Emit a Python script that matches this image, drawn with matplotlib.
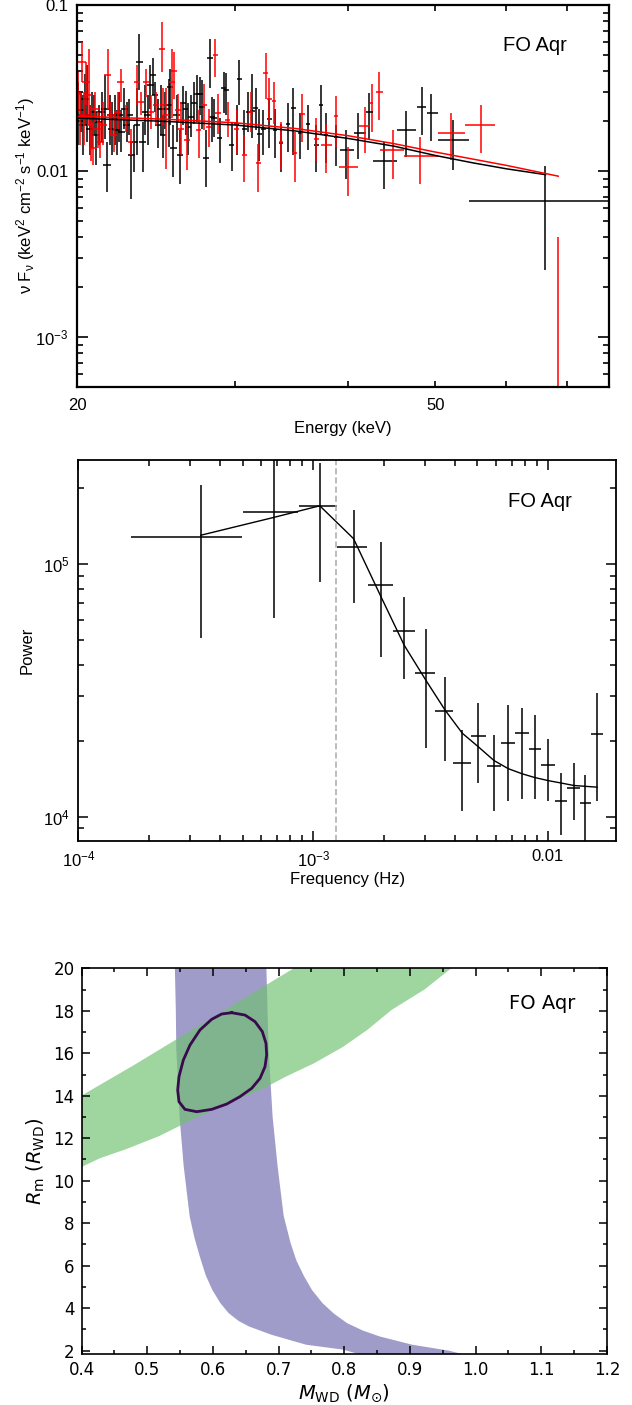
import numpy as np
import matplotlib
matplotlib.use('Agg')
import matplotlib.pyplot as plt
from matplotlib.ticker import (FixedLocator, FixedFormatter, NullFormatter,
                               LogLocator, MultipleLocator)

plt.rcParams['font.family'] = 'Liberation Sans'
plt.rcParams['mathtext.fontset'] = 'custom'
plt.rcParams['mathtext.rm'] = 'Liberation Sans'
plt.rcParams['mathtext.it'] = 'Liberation Sans:italic'
plt.rcParams['mathtext.bf'] = 'Liberation Sans:bold'

# ---------------- spectrum (top panel) ----------------
# dense, narrow-bin points: energy (keV), flux, lower, upper
blk_E = [20.05, 20.19, 20.31, 20.43, 20.53, 20.66, 20.78, 20.89, 21.01, 21.14,
         21.31, 21.49, 21.60, 21.78, 21.85, 22.04, 22.15, 22.28, 22.41, 22.57,
         22.72, 22.86, 22.99, 23.16, 23.32, 23.46, 23.66, 23.80, 23.97, 24.13,
         24.28, 24.43, 24.60, 24.77, 24.93, 25.08, 25.3, 25.4, 25.6, 25.8,
         26.0, 26.2, 26.4, 26.6, 26.8, 27.0, 27.2, 27.4, 27.55, 27.8,
         28.1, 28.25, 28.4, 28.8, 29.1, 29.3, 29.7, 30.1, 30.3, 30.7,
         31.0, 31.3, 31.6, 31.9, 32.2, 32.7, 33.2, 33.7, 34.3, 34.8,
         35.4, 36.1, 36.9, 37.3, 37.8, 38.8]
blk_F = [0.0216, 0.0232, 0.0189, 0.0273, 0.0216, 0.0180, 0.0207, 0.0227, 0.0164, 0.0198,
         0.0227, 0.0237, 0.0108, 0.0216, 0.0180, 0.0207, 0.0176, 0.0216, 0.0172, 0.0237,
         0.0189, 0.0216, 0.0124, 0.0149, 0.0189, 0.0454, 0.0149, 0.0227, 0.0216, 0.0328,
         0.0378, 0.0286, 0.0189, 0.0237, 0.0164, 0.0237, 0.0249, 0.0320, 0.0137, 0.0216,
         0.0124, 0.0255, 0.0235, 0.0184, 0.0211, 0.0258, 0.0289, 0.0292, 0.0243, 0.0119,
         0.0476, 0.0211, 0.0207, 0.0159, 0.0316, 0.0306, 0.0144, 0.0193, 0.0356, 0.0180,
         0.0227, 0.0229, 0.0239, 0.0168, 0.0180, 0.0205, 0.0176, 0.0148, 0.0193, 0.0241,
         0.0170, 0.0191, 0.0144, 0.0249, 0.0164, 0.0160]
blk_lo = [0.0143, 0.0172, 0.0124, 0.0189, 0.0149, 0.0124, 0.0137, 0.0164, 0.0108, 0.0143,
          0.0149, 0.0156, 0.0075, 0.0143, 0.0124, 0.0143, 0.0124, 0.0149, 0.0130, 0.0180,
          0.0149, 0.0164, 0.0068, 0.0099, 0.0124, 0.0306, 0.0099, 0.0164, 0.0143, 0.0237,
          0.0286, 0.0227, 0.0137, 0.0164, 0.0119, 0.0180, 0.0140, 0.0189, 0.0092, 0.0149,
          0.0084, 0.0189, 0.0164, 0.0124, 0.0160, 0.0193, 0.0198, 0.0216, 0.0178, 0.0080,
          0.0314, 0.0149, 0.0160, 0.0111, 0.0222, 0.0216, 0.0100, 0.0125, 0.0249, 0.0127,
          0.0172, 0.0157, 0.0176, 0.0114, 0.0124, 0.0137, 0.0120, 0.0099, 0.0130, 0.0124,
          0.0118, 0.0133, 0.0098, 0.0166, 0.0111, 0.0107]
blk_hi = [0.0345, 0.0299, 0.0286, 0.0386, 0.0433, 0.0249, 0.0299, 0.0286, 0.0227, 0.0249,
          0.0299, 0.0378, 0.0149, 0.0286, 0.0260, 0.0286, 0.0232, 0.0299, 0.0232, 0.0314,
          0.0260, 0.0273, 0.0149, 0.0189, 0.0314, 0.0672, 0.0198, 0.0328, 0.0286, 0.0433,
          0.0476, 0.0345, 0.0273, 0.0328, 0.0216, 0.0299, 0.0360, 0.0414, 0.0189, 0.0286,
          0.0176, 0.0325, 0.0303, 0.0255, 0.0286, 0.0341, 0.0378, 0.0368, 0.0352, 0.0176,
          0.0627, 0.0279, 0.0273, 0.0207, 0.0395, 0.0391, 0.0198, 0.0251, 0.0463, 0.0232,
          0.0299, 0.0381, 0.0314, 0.0235, 0.0232, 0.0273, 0.0237, 0.0193, 0.0255, 0.0314,
          0.0222, 0.0251, 0.0190, 0.0331, 0.0222, 0.0189]

red_E = [20.05, 20.14, 20.26, 20.36, 20.48, 20.60, 20.71, 20.83, 20.96, 21.10,
         21.24, 21.37, 21.63, 21.82, 21.96, 22.19, 22.38, 22.66, 22.96, 23.32,
         23.56, 23.87, 24.18, 24.50, 24.86, 24.93, 25.10, 25.5, 25.65, 25.9,
         26.1, 26.5, 27.3, 27.7, 28.0, 28.5, 28.7, 29.4, 30.1, 30.7,
         31.2, 31.8, 32.4, 32.7, 33.1, 33.7, 34.9, 35.6, 36.9, 38.8, 42.5]
red_F = [0.0292, 0.0207, 0.0454, 0.0216, 0.0345, 0.0286, 0.0189, 0.0137, 0.0237, 0.0180,
         0.0149, 0.0189, 0.0378, 0.0216, 0.0164, 0.0227, 0.0345, 0.0207, 0.0149, 0.0345,
         0.0260, 0.0345, 0.0227, 0.0249, 0.0546, 0.0249, 0.0216, 0.0345, 0.0400, 0.0232,
         0.0180, 0.0153, 0.0176, 0.0251, 0.0184, 0.0498, 0.0222, 0.0202, 0.0180, 0.0125,
         0.0227, 0.0112, 0.0391, 0.0273, 0.0265, 0.0149, 0.0129, 0.0220, 0.0155, 0.0213, 0.0255]
red_lo = [0.0227, 0.0143, 0.0345, 0.0143, 0.0249, 0.0189, 0.0114, 0.0108, 0.0198, 0.0137,
          0.0119, 0.0143, 0.0237, 0.0164, 0.0130, 0.0180, 0.0260, 0.0172, 0.0125, 0.0249,
          0.0216, 0.0280, 0.0180, 0.0189, 0.0395, 0.0189, 0.0103, 0.0207, 0.0273, 0.0198,
          0.0124, 0.0101, 0.0119, 0.0176, 0.0140, 0.0368, 0.0168, 0.0160, 0.0127, 0.0086,
          0.0172, 0.0075, 0.0273, 0.0199, 0.0193, 0.0101, 0.0086, 0.0149, 0.0114, 0.0140, 0.0172]
red_hi = [0.0395, 0.0299, 0.0599, 0.0299, 0.0454, 0.0546, 0.0249, 0.0198, 0.0299, 0.0227,
          0.0198, 0.0260, 0.0546, 0.0260, 0.0216, 0.0299, 0.0414, 0.0249, 0.0180, 0.0433,
          0.0299, 0.0414, 0.0286, 0.0299, 0.0790, 0.0314, 0.0314, 0.0545, 0.0520, 0.0292,
          0.0260, 0.0202, 0.0232, 0.0336, 0.0237, 0.0627, 0.0292, 0.0260, 0.0232, 0.0164,
          0.0299, 0.0146, 0.0510, 0.0361, 0.0344, 0.0198, 0.0172, 0.0292, 0.0207, 0.0282, 0.0336]

# wide-bin points: centre, bin low, bin high, flux, lower, upper
blkw_E = [39.8, 41.0, 42.2, 43.9, 46.4, 48.3, 49.5, 52.4, 66.3]
blkw_Elo = [39.2, 40.6, 41.9, 42.7, 45.4, 47.7, 49.0, 50.4, 54.5]
blkw_Ehi = [40.6, 41.9, 42.6, 45.3, 47.6, 48.9, 50.4, 54.5, 80.0]
blkw_F = [0.0133, 0.0170, 0.0225, 0.0114, 0.0176, 0.0243, 0.0223, 0.0153, 0.00657]
blkw_lo = [0.0089, 0.0118, 0.0153, 0.0078, 0.0121, 0.0164, 0.0152, 0.0102, 0.00254]
blkw_hi = [0.0176, 0.0222, 0.0295, 0.0149, 0.0229, 0.0320, 0.0292, 0.0202, 0.0107]

redw_E = [37.8, 40.0, 41.8, 43.3, 44.9, 48.1, 52.1, 56.2, 68.5]
redw_Elo = [37.3, 39.1, 41.2, 43.0, 43.4, 46.2, 50.4, 54.0, 58.3]
redw_Ehi = [38.4, 41.0, 42.3, 43.7, 46.2, 50.4, 54.0, 58.3, 80.0]
redw_F = [0.0143, 0.0105, 0.0186, 0.0299, 0.0133, 0.0123, 0.0170, 0.0189, 0.0002]
redw_lo = [0.0097, 0.0071, 0.0128, 0.0202, 0.0089, 0.0084, 0.0116, 0.0129, 0.00001]
redw_hi = [0.0193, 0.0140, 0.0243, 0.0395, 0.0177, 0.0160, 0.0223, 0.0249, 0.0040]

mod_E_blk = [20, 25, 30, 35, 40, 45, 50, 55, 60, 66.3]
mod_F_blk = [0.0208, 0.0199, 0.0189, 0.0174, 0.0157, 0.0141, 0.0124, 0.0112, 0.0103, 0.0095]
mod_E_red = [20, 25, 30, 35, 40, 45, 50, 55, 60, 68.5]
mod_F_red = [0.0214, 0.0205, 0.0195, 0.0180, 0.0163, 0.0146, 0.0130, 0.0118, 0.0108, 0.0093]

# ---------------- power spectrum (middle panel) ----------------
freq = [3.32e-4, 6.81e-4, 1.067e-3, 1.486e-3, 1.944e-3, 2.443e-3, 3.02e-3, 3.65e-3,
        4.32e-3, 5.06e-3, 5.89e-3, 6.78e-3, 7.76e-3, 8.79e-3, 1.005e-2, 1.14e-2,
        1.29e-2, 1.445e-2, 1.62e-2]
freq_lo = [1.67e-4, 5.02e-4, 8.73e-4, 1.268e-3, 1.72e-3, 2.19e-3, 2.72e-3, 3.31e-3,
           3.95e-3, 4.68e-3, 5.48e-3, 6.31e-3, 7.26e-3, 8.32e-3, 9.38e-3, 1.07e-2,
           1.21e-2, 1.37e-2, 1.53e-2]
freq_hi = [4.98e-4, 8.63e-4, 1.268e-3, 1.70e-3, 2.19e-3, 2.72e-3, 3.31e-3, 3.95e-3,
           4.68e-3, 5.45e-3, 6.31e-3, 7.26e-3, 8.32e-3, 9.38e-3, 1.067e-2, 1.21e-2,
           1.37e-2, 1.53e-2, 1.72e-2]
power = [1.28e5, 1.60e5, 1.69e5, 1.17e5, 8.24e4, 5.45e4, 3.71e4, 2.63e4, 1.63e4, 2.08e4,
         1.59e4, 1.96e4, 2.14e4, 1.85e4, 1.61e4, 1.16e4, 1.30e4, 1.135e4, 2.12e4]
power_lo = [5.08e4, 6.1e4, 8.51e4, 7.04e4, 4.3e4, 3.5e4, 1.88e4, 1.67e4, 1.05e4, 1.36e4,
            1.05e4, 1.15e4, 1.18e4, 1.18e4, 1.16e4, 8.46e3, 9.7e3, 7.5e3, 1.16e4]
power_hi = [2.05e5, 3.0e5, 2.5e5, 1.64e5, 1.22e5, 7.43e4, 5.51e4, 3.58e4, 2.2e4, 2.81e4,
            2.1e4, 2.77e4, 2.7e4, 2.52e4, 2.04e4, 1.49e4, 1.63e4, 1.46e4, 3.08e4]
power_model = [1.30e5, 1.53e5, 1.70e5, 1.26e5, 7.43e4, 4.77e4, 3.47e4, 2.64e4, 2.14e4,
               1.89e4, 1.67e4, 1.55e4, 1.48e4, 1.43e4, 1.39e4, 1.36e4, 1.33e4, 1.32e4, 1.31e4]
f_break = 1.25e-3

# ---------------- M_WD - R_m constraints (bottom panel) ----------------
purple_M = [0.5417, 0.5435, 0.5442, 0.5470, 0.5492, 0.5554, 0.5647, 0.5720, 0.5803,
            0.5890, 0.5989, 0.6110, 0.6238, 0.6390, 0.6549, 0.6890, 0.7419, 0.7978, 0.8382,
            0.9968, 0.9595, 0.9035, 0.8538, 0.8280, 0.8040, 0.7840, 0.7668, 0.7510,
            0.7388, 0.7270, 0.7183, 0.7077, 0.6984, 0.6909, 0.6847, 0.6810]
purple_R = [20.5, 18.0, 16.2, 14.5, 13.0, 10.7, 8.3, 7.3, 6.4, 5.55, 4.87, 4.25, 3.77,
            3.40, 3.14, 2.75, 2.28, 2.05, 1.7,
            1.7, 2.0, 2.28, 2.67, 2.95, 3.3, 3.75, 4.24, 4.85,
            5.5, 6.25, 7.06, 8.35, 10.7, 13.0, 16.2, 20.5]
green_M = [0.39, 0.428, 0.468, 0.518, 0.568, 0.624, 0.673, 0.711, 0.754, 0.798, 0.835,
           0.872, 0.922, 0.975, 0.739, 0.723, 0.64, 0.56, 0.48, 0.39]
green_R = [10.5, 11.06, 11.49, 12.1, 12.87, 13.65, 14.28, 14.9, 15.53, 16.3, 17.1,
           18.04, 19.0, 20.3, 20.3, 20.0, 18.45, 16.95, 15.45, 13.83]
ell_M = [0.6286, 0.6488, 0.6641, 0.6752, 0.6808, 0.6818, 0.6793, 0.6717, 0.6590, 0.6412,
         0.6209, 0.5981, 0.5753, 0.5574, 0.5483, 0.5463, 0.5483, 0.5549, 0.5651, 0.5803,
         0.5981, 0.6133, 0.6286]
ell_R = [17.91, 17.80, 17.49, 17.02, 16.47, 15.92, 15.37, 14.82, 14.35, 13.96,
         13.61, 13.36, 13.25, 13.36, 13.72, 14.27, 14.90, 15.68, 16.39, 17.10,
         17.60, 17.85, 17.91]

fig = plt.figure(figsize=(6.32, 14.05), dpi=100)

# ===== top =====
ax1 = fig.add_axes([0.1218, 0.7246, 0.8418, 0.2719])
E = np.array(blk_E); F = np.array(blk_F)
ax1.errorbar(E, F, yerr=[F - np.array(blk_lo), np.array(blk_hi) - F], xerr=0.2,
             fmt='none', ecolor='black', elinewidth=1.1, capsize=0)
E = np.array(red_E); F = np.array(red_F)
ax1.errorbar(E, F, yerr=[F - np.array(red_lo), np.array(red_hi) - F], xerr=0.2,
             fmt='none', ecolor='red', elinewidth=1.1, capsize=0)
E = np.array(blkw_E); F = np.array(blkw_F)
ax1.errorbar(E, F, yerr=[F - np.array(blkw_lo), np.array(blkw_hi) - F],
             xerr=[E - np.array(blkw_Elo), np.array(blkw_Ehi) - E],
             fmt='none', ecolor='black', elinewidth=1.1, capsize=0)
E = np.array(redw_E); F = np.array(redw_F)
ax1.errorbar(E, F, yerr=[F - np.array(redw_lo), np.array(redw_hi) - F],
             xerr=[E - np.array(redw_Elo), np.array(redw_Ehi) - E],
             fmt='none', ecolor='red', elinewidth=1.1, capsize=0)
ax1.plot(mod_E_blk, mod_F_blk, color='black', lw=1.1)
ax1.plot(mod_E_red, mod_F_red, color='red', lw=1.1)
ax1.set_xscale('log'); ax1.set_yscale('log')
ax1.set_xlim(20, 78); ax1.set_ylim(5e-4, 0.1)
ax1.xaxis.set_major_locator(FixedLocator([20, 50]))
ax1.xaxis.set_major_formatter(FixedFormatter(['20', '50']))
ax1.xaxis.set_minor_locator(FixedLocator([30, 40, 60, 70]))
ax1.xaxis.set_minor_formatter(NullFormatter())
ax1.yaxis.set_major_locator(FixedLocator([1e-3, 1e-2, 1e-1]))
ax1.yaxis.set_major_formatter(FixedFormatter([r'10$^{-3}$', '0.01', '0.1']))
ax1.yaxis.set_minor_locator(LogLocator(base=10, subs=np.arange(2, 10)))
ax1.yaxis.set_minor_formatter(NullFormatter())
ax1.tick_params(which='both', direction='in', top=True, right=True, labelsize=12, width=1.2)
ax1.tick_params(axis='y', which='major', length=8, pad=6)
ax1.tick_params(axis='y', which='minor', length=4.5)
ax1.tick_params(axis='x', which='both', length=4, pad=8)
ax1.set_xlabel('Energy (keV)', fontsize=12)
ax1.set_ylabel(r'ν F$_\mathregular{ν}$ (keV$^\mathregular{2}$ cm$^\mathregular{-2}$ '
               r's$^\mathregular{-1}$ keV$^\mathregular{-1}$)', fontsize=12)
ax1.yaxis.set_label_coords(-0.075, 0.5)
ax1.xaxis.set_label_coords(0.5, -0.09)
ax1.text(0.80, 0.895, 'FO Aqr', transform=ax1.transAxes, fontsize=14.5, va='center')
for s in ax1.spines.values():
    s.set_linewidth(1.6)

# ===== middle =====
ax2 = fig.add_axes([0.1241, 0.4016, 0.8506, 0.2710])
fr = np.array(freq); pw = np.array(power)
ax2.errorbar(fr, pw, yerr=[pw - np.array(power_lo), np.array(power_hi) - pw],
             xerr=[fr - np.array(freq_lo), np.array(freq_hi) - fr],
             fmt='none', ecolor='black', elinewidth=1.1, capsize=0)
ax2.plot(freq, power_model, color='black', lw=1)
ax2.axvline(f_break, color='#aaaaaa', ls=(0, (4, 2)), lw=1.1)
ax2.set_xscale('log'); ax2.set_yscale('log')
ax2.set_xlim(1e-4, 0.0195); ax2.set_ylim(8.04e3, 2.58e5)
ax2.xaxis.set_major_locator(FixedLocator([1e-4, 1e-3, 1e-2]))
ax2.xaxis.set_major_formatter(FixedFormatter([r'10$^{-4}$', r'10$^{-3}$', '0.01']))
ax2.xaxis.set_minor_locator(LogLocator(base=10, subs=np.arange(2, 10)))
ax2.xaxis.set_minor_formatter(NullFormatter())
ax2.yaxis.set_major_locator(FixedLocator([1e4, 1e5]))
ax2.yaxis.set_major_formatter(FixedFormatter([r'10$^{4}$', r'10$^{5}$']))
ax2.yaxis.set_minor_locator(LogLocator(base=10, subs=np.arange(2, 10)))
ax2.yaxis.set_minor_formatter(NullFormatter())
ax2.tick_params(which='both', direction='in', top=True, right=True, labelsize=12, width=1.1)
ax2.tick_params(which='major', length=7, pad=6)
ax2.tick_params(which='minor', length=4)
ax2.set_xlabel('Frequency (Hz)', fontsize=12)
ax2.set_ylabel('Power', fontsize=12)
ax2.yaxis.set_label_coords(-0.081, 0.5)
ax2.xaxis.set_label_coords(0.5, -0.081)
ax2.text(0.80, 0.89, 'FO Aqr', transform=ax2.transAxes, fontsize=14.5, va='center')
for s in ax2.spines.values():
    s.set_linewidth(1.3)

# ===== bottom =====
ax3 = fig.add_axes([0.1291, 0.0361, 0.8313, 0.2747])
ax3.fill(purple_M, purple_R, color='#9f9cca', lw=0)
ax3.fill(green_M, green_R, color=(0.44, 0.757, 0.44), alpha=0.667, lw=0)
ax3.plot(ell_M, ell_R, color='#3a0a4e', lw=2, solid_joinstyle='round')
ax3.set_xlim(0.4, 1.2); ax3.set_ylim(1.83, 20)
ax3.xaxis.set_major_locator(MultipleLocator(0.1))
ax3.xaxis.set_minor_locator(MultipleLocator(0.05))
ax3.yaxis.set_major_locator(MultipleLocator(2))
ax3.yaxis.set_minor_locator(MultipleLocator(1))
ax3.tick_params(which='both', direction='in', top=True, right=True, labelsize=12,
                labelfontfamily='DejaVu Sans', width=1.1)
ax3.tick_params(which='major', length=6, pad=5)
ax3.tick_params(which='minor', length=3)
ax3.set_xlabel(r'$M_{\rm WD}$ ($M_{\odot}$)', fontsize=14, fontfamily='DejaVu Sans',
               math_fontfamily='dejavusans')
ax3.set_ylabel(r'$R_{\rm m}$ ($R_{\rm WD}$)', fontsize=14, fontfamily='DejaVu Sans',
               math_fontfamily='dejavusans')
ax3.yaxis.set_label_coords(-0.066, 0.5)
ax3.xaxis.set_label_coords(0.5, -0.072)
ax3.text(0.814, 0.909, 'FO Aqr', transform=ax3.transAxes, fontsize=14,
         fontfamily='DejaVu Sans', va='center')
for s in ax3.spines.values():
    s.set_linewidth(1.2)

fig.savefig('out.png', dpi=100)
